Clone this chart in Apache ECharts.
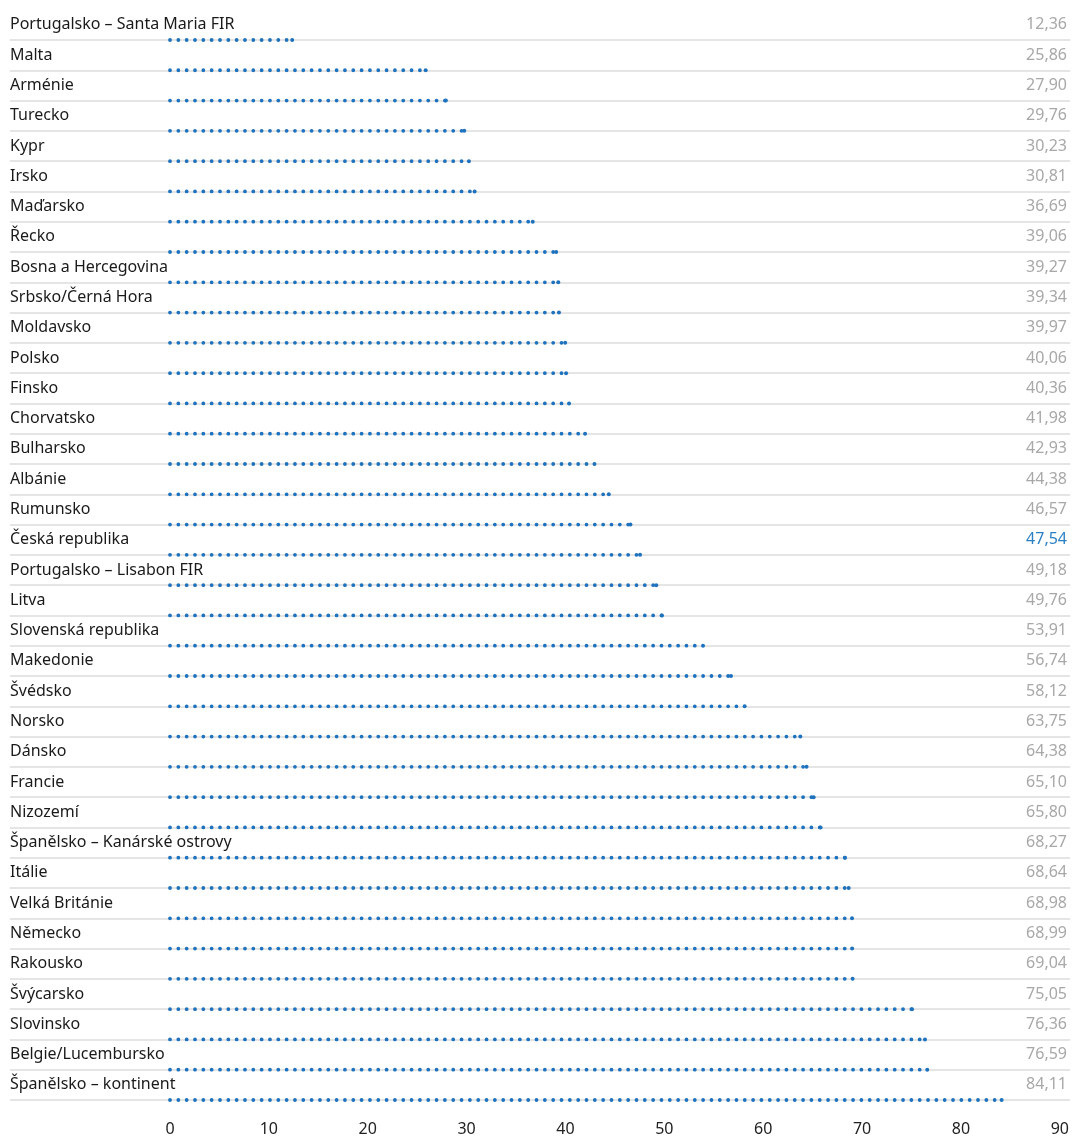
<!DOCTYPE html>
<html>
<head>
<meta charset="utf-8">
<script src="https://cdn.jsdelivr.net/npm/echarts@6/dist/echarts.min.js"></script>
<style>
  html, body { margin: 0; padding: 0; background: #fff; }
  #chart { width: 1072px; height: 1139px; }
</style>
</head>
<body>
<div id="chart"></div>
<script>
  // rows top -> bottom
  const countries = [
    'Portugalsko – Santa Maria FIR', 'Malta', 'Arménie', 'Turecko', 'Kypr', 'Irsko',
    'Maďarsko', 'Řecko', 'Bosna a Hercegovina', 'Srbsko/Černá Hora', 'Moldavsko', 'Polsko',
    'Finsko', 'Chorvatsko', 'Bulharsko', 'Albánie', 'Rumunsko', 'Česká republika',
    'Portugalsko – Lisabon FIR', 'Litva', 'Slovenská republika', 'Makedonie', 'Švédsko', 'Norsko',
    'Dánsko', 'Francie', 'Nizozemí', 'Španělsko – Kanárské ostrovy', 'Itálie', 'Velká Británie',
    'Německo', 'Rakousko', 'Švýcarsko', 'Slovinsko', 'Belgie/Lucembursko', 'Španělsko – kontinent'
  ];
  const values = [
    12.36, 25.86, 27.90, 29.76, 30.23, 30.81,
    36.69, 39.06, 39.27, 39.34, 39.97, 40.06,
    40.36, 41.98, 42.93, 44.38, 46.57, 47.54,
    49.18, 49.76, 53.91, 56.74, 58.12, 63.75,
    64.38, 65.10, 65.80, 68.27, 68.64, 68.98,
    68.99, 69.04, 75.05, 76.36, 76.59, 84.11
  ];
  const highlight = 'Česká republika';
  const xTicks = { min: 0, max: 90, step: 10 };

  const blue = '#1f72bd';
  const valueLabels = values.map(v => v.toFixed(2).replace('.', ','));
  const n = countries.length;

  // first boundary (top) has no rule
  const ruleColors = [];
  for (let i = 0; i <= n; i++) ruleColors.push(i === 0 ? 'rgba(0,0,0,0)' : '#dcdcdc');

  const font = '"Noto Sans", sans-serif';
  const gridTop = 9.7, gridBottom = 39;

  const chart = echarts.init(document.getElementById('chart'));

  chart.setOption({
    animation: false,
    grid: [
      { left: 10, right: 2, top: gridTop, bottom: gridBottom },
      { left: 170, right: 11, top: gridTop, bottom: gridBottom }
    ],
    xAxis: [
      { gridIndex: 0, type: 'value', show: false, min: 0, max: 1 },
      {
        gridIndex: 1, type: 'value', min: xTicks.min, max: xTicks.max, interval: xTicks.step,
        axisLine: { show: false }, axisTick: { show: false }, splitLine: { show: false },
        axisLabel: { margin: 21, fontSize: 16, color: '#222', fontFamily: font }
      }
    ],
    yAxis: [
      {
        gridIndex: 0, type: 'category', data: countries, inverse: true, boundaryGap: true,
        axisLine: { show: false }, axisTick: { show: false },
        splitLine: { show: true, lineStyle: { color: ruleColors, width: 1.5 } },
        axisLabel: {
          inside: true, margin: 0, fontSize: 16, color: '#1a1a1a', fontFamily: font,
          padding: [0, 0, 6, 0]
        }
      },
      {
        gridIndex: 0, type: 'category', data: valueLabels, inverse: true, position: 'right',
        axisLine: { show: false }, axisTick: { show: false }, splitLine: { show: false },
        axisLabel: {
          inside: true, margin: 3, fontSize: 16, fontFamily: font,
          padding: [0, 0, 6, 0],
          color: (val, idx) => countries[idx] === highlight ? '#2b80c4' : '#a8a8a8'
        }
      },
      { gridIndex: 1, type: 'value', show: false, min: 0, max: n, inverse: true }
    ],
    series: countries.map((c, i) => ({
      name: c,
      type: 'line',
      xAxisIndex: 1,
      yAxisIndex: 2,
      silent: true,
      symbol: 'circle',
      symbolSize: 4,
      itemStyle: { color: blue },
      lineStyle: { color: blue, width: 3.8, type: [0.01, 8.32], cap: 'round' },
      data: [
        { value: [0, i + 1], symbolSize: 0 },
        { value: [values[i], i + 1] }
      ]
    }))
  });
</script>
</body>
</html>
